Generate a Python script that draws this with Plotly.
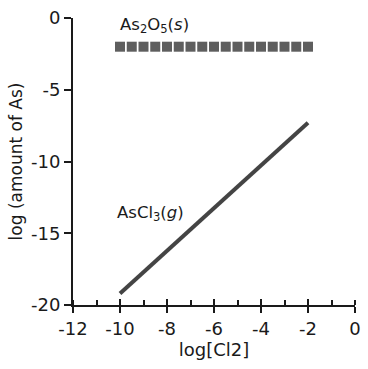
import plotly.graph_objects as go

# Data
as2o5_x = [-10.0, -9.5, -9.0, -8.5, -8.0, -7.5, -7.0, -6.5, -6.0, -5.5, -5.0, -4.5, -4.0, -3.5, -3.0, -2.5, -2.0]
as2o5_y = [-2.0] * 17
ascl3_x = [-10.0, -2.0]
ascl3_y = [-19.2, -7.3]
x_ticks = [-12, -10, -8, -6, -4, -2, 0]
y_ticks = [0, -5, -10, -15, -20]

FONT = "DejaVu Sans"
INK = "#1a1a1a"
fig = go.Figure()
fig.add_trace(go.Scatter(x=as2o5_x, y=as2o5_y, mode="markers",
                         marker=dict(symbol="square", size=10, color="#5e5e5e",
                                     line=dict(width=0)),
                         showlegend=False, cliponaxis=False))
fig.add_trace(go.Scatter(x=ascl3_x, y=ascl3_y, mode="lines",
                         line=dict(color="#444444", width=4),
                         showlegend=False))

fig.add_annotation(x=-10.1, y=-0.55, xref="x", yref="y", xanchor="left", yanchor="middle",
                   text="As<sub>2</sub>O<sub>5</sub>(<i>s</i>)", showarrow=False,
                   font=dict(family=FONT, size=16.5, color=INK))
fig.add_annotation(x=-10.2, y=-13.65, xref="x", yref="y", xanchor="left", yanchor="middle",
                   text="AsCl<sub>3</sub>(<i>g</i>)", showarrow=False,
                   font=dict(family=FONT, size=16.5, color=INK))

fig.update_layout(
    width=368, height=369,
    margin=dict(l=73, r=7, t=15, b=64),
    paper_bgcolor="white", plot_bgcolor="white",
    font=dict(family=FONT, size=18, color=INK),
    xaxis=dict(range=[-12, 0], tickvals=x_ticks, ticktext=[str(v) for v in x_ticks],
               showgrid=False, zeroline=False, showline=True, linecolor=INK, linewidth=2,
               ticks="outside", ticklen=6, tickwidth=1.8, tickcolor=INK,
               minor=dict(dtick=1, ticks="inside", ticklen=5, tickwidth=1.8, tickcolor=INK),
               title=dict(text="log[Cl2]", font=dict(family=FONT, size=18, color=INK), standoff=4),
               tickfont=dict(family=FONT, size=18, color=INK)),
    yaxis=dict(range=[-20, 0], tickvals=y_ticks, ticktext=[str(v) for v in y_ticks],
               showgrid=False, zeroline=False, showline=True, linecolor=INK, linewidth=2,
               ticks="outside", ticklen=7, tickwidth=1.8, tickcolor=INK,
               title=dict(text="log (amount of As)", font=dict(family=FONT, size=17, color=INK), standoff=4),
               tickfont=dict(family=FONT, size=18, color=INK)),
    xaxis2=dict(range=[-12, 0], overlaying="x", anchor="y", side="bottom", tickvals=x_ticks,
                showticklabels=False, ticks="inside", ticklen=6, tickwidth=1.8, tickcolor=INK,
                showgrid=False, zeroline=False, showline=False),
)
fig.add_trace(go.Scatter(x=[None], y=[None], xaxis="x2", showlegend=False, hoverinfo="skip"))
fig.write_html("out.html")
